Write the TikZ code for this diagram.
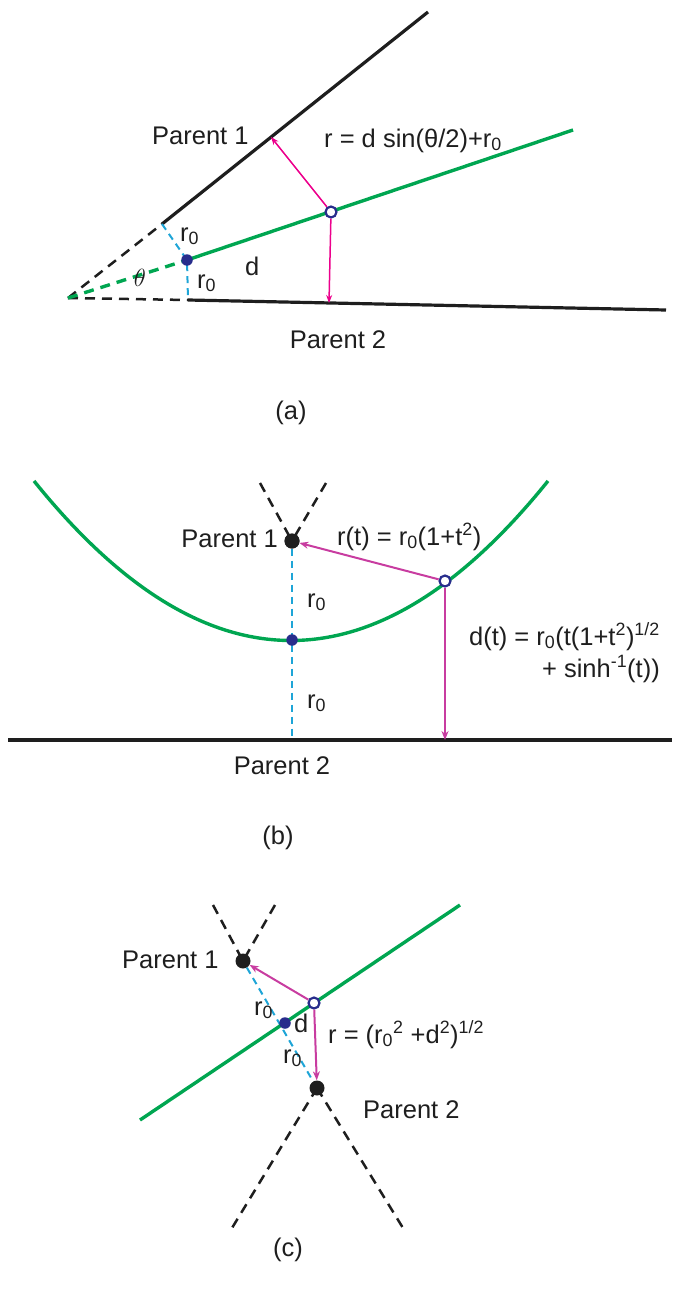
\documentclass[tikz,border=0pt]{standalone}
\usepackage{fontspec}
\setmainfont{Liberation Sans}
\usetikzlibrary{arrows.meta}
\definecolor{pgreen}{RGB}{0,166,81}
\definecolor{pmag}{RGB}{236,0,140}
\definecolor{pmagb}{RGB}{200,60,160}
\definecolor{pblue}{RGB}{40,45,140}
\definecolor{pcyan}{RGB}{30,165,215}
\definecolor{pblack}{RGB}{30,30,30}
\begin{document}
\begin{tikzpicture}[x=1pt,y=-1pt,
  lbl/.style={font=\fontsize{25.5}{30}\selectfont, inner sep=0pt, text=pblack},
  parentline/.style={line width=3.2pt, pblack},
  extline/.style={line width=2.5pt, pblack, dash pattern=on 10pt off 7pt},
  midpath/.style={line width=3.4pt, pgreen},
  midpathdash/.style={line width=3.4pt, pgreen, dash pattern=on 10pt off 7pt},
  radline/.style={line width=2pt, pcyan, dash pattern=on 7pt off 5pt},
  arr/.style={line width=1.5pt, -{Stealth[length=8pt,width=6pt]}},
  arrb/.style={line width=2pt, -{Stealth[length=9pt,width=7pt]}},
  fdot/.style={circle, fill=pblue, inner sep=0pt, minimum size=11.5pt},
  odot/.style={circle, draw=pblue, fill=white, line width=2.2pt, inner sep=0pt, minimum size=11pt},
  pdot/.style={circle, fill=pblack, inner sep=0pt, minimum size=15pt}]
\useasboundingbox (0,0) rectangle (673,1295);

% ---------------- (a) ----------------
\coordinate (aO) at (68,298);
\coordinate (aP1s) at (162,224);
\coordinate (aP1e) at (428,12);
\coordinate (aP2s) at (188,300);
\coordinate (aP2e) at (666,310);
\coordinate (aGe) at (573,130);
\coordinate (aF1) at (271,137);
\coordinate (aF2) at (329,303);
\draw[extline] (aO) -- (aP1s);
\draw[extline] (aO) -- (aP2s);
\draw[parentline] (aP1s) -- (aP1e);
\draw[parentline] (aP2s) -- (aP2e);
\draw[radline] (aP1s) -- (187,260) -- (aP2s);
\draw[midpathdash] (aO) -- (187,260);
\draw[midpath] (187,260) -- (aGe);
\node[fdot] (aB) at (187,260) {};
\node[odot] (aC) at (331,212) {};
\draw[arr, pmag] (aC) -- (aF1);
\draw[arr, pmag] (aC) -- (aF2);
\node[lbl, anchor=base west] (aL1) at (152,145) {Parent 1};
\node[lbl, anchor=base west] (aLr) at (324,147) {r = d sin(θ/2)+r\textsubscript{0}};
\node[lbl, anchor=base west] (aLr0a) at (180,241) {r\textsubscript{0}};
\node[lbl, anchor=base west] (aLr0b) at (197,288) {r\textsubscript{0}};
\node[lbl, font=\fontsize{29}{32}\selectfont] (aLth) at (140,278) {$\theta$};
\node[lbl, anchor=base west] (aLd) at (245,275) {d};
\node[lbl] (aL2) at (338,340) {Parent 2};
\node[lbl] (aCap) at (291,413) {(a)};

% ---------------- (b) ----------------
\draw[parentline] (8,740) -- (672,740);
\node[pdot] (bP1) at (292,541) {};
\coordinate (bL) at (292,740);
\coordinate (bF) at (445,740);
\draw[extline] (260,483) -- (bP1.center);
\draw[extline] (326,483) -- (bP1.center);
\draw[radline] (bP1) -- (bL);
\draw[midpath] plot[domain=-257:257, samples=81, smooth] ({291+\x},{640.5-(\x/20)*(\x/20)/1.035});
\node[fdot] (bB) at (292,640) {};
\node[odot] (bC) at (445,581) {};
\node[pdot] at (292,541) {};
\draw[arrb, pmagb] (bC) -- (bP1);
\draw[arrb, pmagb] (bC) -- (bF);
\node[lbl, anchor=base east] (bL1) at (278,547) {Parent 1};
\node[lbl, anchor=base west] (bLr) at (337,545) {r(t) = r\textsubscript{0}(1+t\textsuperscript{2})};
\node[lbl, anchor=base west] (bLr0a) at (307,607) {r\textsubscript{0}};
\node[lbl, anchor=base west] (bLr0b) at (307,708) {r\textsubscript{0}};
\node[lbl, anchor=base east] (bLd1) at (660,645) {d(t) = r\textsubscript{0}(t(1+t\textsuperscript{2})\textsuperscript{1/2}};
\node[lbl, anchor=base east] (bLd2) at (660,677) {+ sinh\textsuperscript{-1}(t))};
\node[lbl] (bL2) at (282,766) {Parent 2};
\node[lbl] (bCap) at (278,838) {(b)};

% ---------------- (c) ----------------
\node[pdot] (cP1) at (243,961) {};
\node[pdot] (cP2) at (317,1088) {};
\draw[extline] (213,905) -- (cP1.center);
\draw[extline] (275,905) -- (cP1.center);
\draw[extline] (cP2.center) -- (232,1228);
\draw[extline] (cP2.center) -- (403,1228);
\draw[radline] (cP1) -- (cP2);
\draw[midpath] (140,1120) -- (460,905);
\node[fdot] (cB) at (285,1023) {};
\node[odot] (cC) at (314,1003) {};
\draw[arrb, pmagb] (cC) -- (cP1);
\draw[arrb, pmagb] (cC) -- (cP2);
\node[lbl, anchor=base west] (cL1) at (122,968) {Parent 1};
\node[lbl, anchor=base west] (cLr0a) at (254,1015) {r\textsubscript{0}};
\node[lbl, anchor=base west] (cLd) at (294,1032) {d};
\node[lbl, anchor=base west] (cLr0b) at (283,1063) {r\textsubscript{0}};
\node[lbl, anchor=base west] (cLr) at (328,1043) {r = (r\textsubscript{0}\textsuperscript{2} +d\textsuperscript{2})\textsuperscript{1/2}};
\node[lbl, anchor=base west] (cL2) at (363,1118) {Parent 2};
\node[lbl] (cCap) at (288,1250) {(c)};
\end{tikzpicture}
\end{document}
